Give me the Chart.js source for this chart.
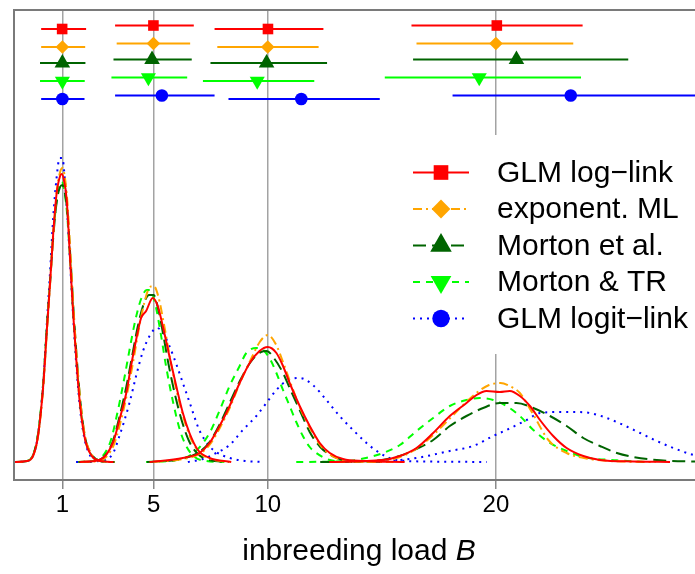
<!DOCTYPE html>
<html><head><meta charset="utf-8">
<script src="https://cdn.jsdelivr.net/npm/chart.js@4/dist/chart.umd.min.js"></script>
<style>
html,body{margin:0;padding:0;background:#fff;overflow:hidden;}
#wrap{position:relative;width:720px;height:574px;}
</style></head><body>
<div id="wrap"><canvas id="c"></canvas></div>
<script>
// ---------- data ----------
const seriesNames = ['GLM log\u2212link', 'exponent. ML', 'Morton et al.', 'Morton & TR', 'GLM logit\u2212link'];
const tickValues = [1, 5, 10, 20];
const axisTitle = 'inbreeding load ';
const axisTitleItalic = 'B';

// interval estimates for the four simulated loads (B = 1, 5, 10, 20)
const logLinkEst = [0.99, 4.99, 10.01, 20.04];
const logLinkLo  = [0.07, 3.31, 7.67, 16.30];
const logLinkHi  = [2.04, 6.76, 12.44, 23.80];
const expMLEst = [1.00, 4.99, 10.00, 20.00];
const expMLLo  = [0.07, 3.38, 7.79, 16.52];
const expMLHi  = [2.00, 6.60, 12.23, 23.39];
const mortonEst = [1.00, 4.93, 9.95, 20.90];
const mortonLo  = [0.02, 3.24, 7.49, 16.37];
const mortonHi  = [2.01, 6.67, 12.60, 25.80];
const mortonTREst = [1.00, 4.77, 9.54, 19.27];
const mortonTRLo  = [0.02, 3.15, 7.16, 15.13];
const mortonTRHi  = [1.98, 6.47, 12.04, 23.73];
const logitEst = [1.00, 5.36, 11.47, 23.28];
const logitLo  = [0.07, 3.31, 8.28, 18.10];
const logitHi  = [1.97, 7.67, 14.91, 31.00];

// vertical level of each method's interval row (y units), and per-group shift
const rowLevel = [4.33, 4.15, 3.99, 3.81, 3.63];
const rowShift = [0, 0.035, 0, 0.035];

// density curves [B, density] per method and group
const dLog1 = [[-1.15,0],[-0.55,0.01],[-0.25,0.08],[-0.05,0.29],[0.17,0.79],[0.31,1.29],[0.46,1.79],[0.6,2.29],[0.75,2.69],[0.9,2.86],[0.97,2.88],[1.05,2.84],[1.19,2.62],[1.34,2.02],[1.48,1.46],[1.63,0.96],[1.78,0.56],[2.0,0.22],[2.29,0.06],[2.65,0.01],[3.24,0]];
const dLog5 = [[1.75,0],[2.62,0.02],[3.21,0.19],[3.5,0.42],[3.8,0.69],[4.01,0.96],[4.23,1.22],[4.45,1.44],[4.67,1.51],[4.96,1.64],[5.18,1.56],[5.4,1.36],[5.69,1.06],[5.99,0.76],[6.28,0.49],[6.57,0.29],[6.94,0.12],[7.45,0.04],[8.4,0]];
const dLog10 = [[4.82,0],[6.28,0.04],[7.01,0.09],[7.45,0.19],[7.89,0.36],[8.33,0.56],[8.77,0.79],[9.21,0.99],[9.64,1.11],[10.0,1.15],[10.38,1.09],[10.67,0.96],[10.96,0.79],[11.4,0.56],[11.84,0.36],[12.28,0.19],[12.72,0.09],[13.3,0.03],[14.2,0.01],[16.0,0]];
const dLog20 = [[12.7,0],[15.05,0.02],[15.79,0.06],[16.52,0.14],[17.25,0.29],[17.98,0.46],[18.71,0.59],[19.15,0.67],[19.59,0.71],[20.17,0.7],[20.61,0.71],[21.05,0.66],[21.49,0.56],[21.93,0.42],[22.51,0.26],[23.1,0.14],[23.83,0.06],[24.56,0.02],[26.02,0.005],[27.63,0]];

const dExp1 = [[-1.15,0],[-0.55,0.01],[-0.25,0.08],[-0.05,0.28],[0.17,0.77],[0.31,1.26],[0.46,1.77],[0.6,2.27],[0.75,2.7],[0.9,2.9],[1.0,2.94],[1.1,2.86],[1.22,2.6],[1.36,2.05],[1.5,1.48],[1.65,0.98],[1.8,0.58],[2.0,0.25],[2.3,0.07],[2.65,0.01],[3.3,0]];
const dExp5 = [[1.8,0],[2.7,0.02],[3.25,0.17],[3.55,0.4],[3.85,0.7],[4.1,1.0],[4.35,1.33],[4.6,1.6],[4.8,1.74],[5.0,1.76],[5.2,1.66],[5.45,1.38],[5.7,1.06],[6.0,0.72],[6.3,0.45],[6.6,0.25],[7.0,0.1],[7.5,0.03],[8.3,0]];
const dExp10 = [[5.0,0],[6.3,0.03],[7.0,0.08],[7.45,0.17],[7.9,0.34],[8.35,0.55],[8.8,0.8],[9.25,1.02],[9.65,1.2],[10.0,1.27],[10.35,1.18],[10.7,0.98],[11.0,0.79],[11.4,0.55],[11.85,0.34],[12.3,0.17],[12.75,0.07],[13.3,0.02],[14.0,0.005],[15.5,0]];
const dExp20 = [[13.0,0],[15.0,0.015],[15.8,0.05],[16.5,0.13],[17.25,0.27],[18.0,0.44],[18.7,0.6],[19.2,0.7],[19.7,0.77],[20.2,0.79],[20.6,0.76],[21.05,0.69],[21.6,0.49],[22.3,0.22],[23.1,0.09],[24.1,0.03],[25.0,0.01],[27.0,0]];

const dMor1 = [[-1.15,0],[-0.55,0.01],[-0.25,0.09],[-0.05,0.3],[0.17,0.8],[0.31,1.3],[0.46,1.79],[0.6,2.25],[0.75,2.6],[0.9,2.75],[1.0,2.77],[1.1,2.7],[1.22,2.5],[1.36,2.02],[1.5,1.48],[1.65,0.98],[1.8,0.58],[2.0,0.24],[2.3,0.07],[2.65,0.01],[3.3,0]];
const dMor5 = [[1.7,0],[2.6,0.02],[3.2,0.2],[3.5,0.45],[3.8,0.75],[4.05,1.05],[4.3,1.35],[4.55,1.57],[4.8,1.67],[5.0,1.67],[5.2,1.53],[5.4,1.3],[5.65,0.98],[5.95,0.66],[6.25,0.4],[6.55,0.21],[6.9,0.09],[7.4,0.02],[8.3,0]];
const dMor10 = [[4.7,0],[6.2,0.03],[7.0,0.1],[7.45,0.2],[7.9,0.38],[8.35,0.6],[8.8,0.82],[9.25,1.0],[9.7,1.1],[9.95,1.11],[10.3,1.03],[10.67,0.89],[11.0,0.72],[11.4,0.52],[11.84,0.3],[12.3,0.15],[12.75,0.07],[13.3,0.02],[14.2,0.005],[15.5,0]];
const dMor20 = [[12.3,0],[14.5,0.01],[15.79,0.06],[16.52,0.13],[17.25,0.22],[17.98,0.36],[18.71,0.46],[19.44,0.54],[20.17,0.59],[20.9,0.59],[21.64,0.54],[22.37,0.46],[23.1,0.36],[23.83,0.24],[24.56,0.16],[25.3,0.09],[26.02,0.05],[27.2,0.017],[28.7,0.005],[30,0]];

const dTR1 = [[-1.15,0],[-0.55,0.01],[-0.25,0.09],[-0.05,0.31],[0.17,0.82],[0.31,1.32],[0.46,1.81],[0.6,2.27],[0.75,2.62],[0.88,2.78],[0.98,2.8],[1.08,2.72],[1.2,2.5],[1.34,2.02],[1.48,1.47],[1.63,0.97],[1.78,0.57],[2.0,0.23],[2.3,0.06],[2.65,0.01],[3.2,0]];
const dTR5 = [[1.7,0],[2.5,0.02],[3.1,0.2],[3.4,0.48],[3.7,0.82],[3.95,1.13],[4.2,1.42],[4.45,1.63],[4.7,1.72],[4.85,1.72],[5.05,1.6],[5.3,1.3],[5.55,0.95],[5.85,0.6],[6.15,0.32],[6.45,0.15],[6.8,0.05],[7.3,0.01],[8.1,0]];
const dTR10 = [[4.67,0],[6.0,0.02],[6.8,0.1],[7.45,0.29],[7.9,0.52],[8.33,0.76],[8.77,0.96],[9.06,1.09],[9.5,1.14],[9.8,1.12],[10.1,1.03],[10.38,0.89],[10.67,0.72],[10.96,0.56],[11.25,0.4],[11.54,0.26],[11.84,0.15],[12.13,0.09],[12.72,0.02],[13.5,0.005],[14.5,0]];
const dTR20 = [[11.25,0],[13.5,0.01],[14.3,0.04],[15.05,0.09],[15.79,0.17],[16.52,0.31],[17.25,0.44],[17.98,0.56],[18.71,0.62],[19.29,0.64],[19.88,0.62],[20.46,0.56],[21.05,0.46],[21.64,0.32],[22.37,0.19],[23.1,0.11],[23.83,0.05],[25.3,0.017],[26.5,0]];

const dLogit1 = [[-1.15,0],[-0.55,0.01],[-0.25,0.08],[-0.05,0.3],[0.17,0.82],[0.31,1.35],[0.46,1.9],[0.6,2.45],[0.75,2.85],[0.88,3.04],[1.0,3.04],[1.1,2.85],[1.22,2.45],[1.36,1.9],[1.5,1.35],[1.65,0.85],[1.8,0.48],[2.0,0.2],[2.3,0.04],[2.65,0.01],[3.0,0]];
const dLogit5 = [[1.6,0],[2.6,0.01],[3.2,0.08],[3.5,0.26],[3.94,0.59],[4.23,0.86],[4.52,1.1],[4.82,1.26],[5.14,1.34],[5.39,1.3],[5.69,1.16],[5.99,0.98],[6.28,0.79],[6.57,0.6],[7.0,0.32],[7.4,0.17],[7.74,0.1],[8.33,0.04],[9.0,0.01],[9.78,0]];
const dLogit10 = [[6.5,0],[7.16,0.03],[7.74,0.09],[8.33,0.17],[8.91,0.32],[9.5,0.46],[9.94,0.59],[10.38,0.72],[10.82,0.81],[11.4,0.84],[11.98,0.77],[12.57,0.62],[13.15,0.46],[13.74,0.32],[14.33,0.19],[14.91,0.09],[15.64,0.02],[17.0,0.005],[19.6,0]];
const dLogit20 = [[14.9,0],[16.52,0.04],[17.98,0.11],[19.0,0.16],[19.88,0.26],[20.46,0.32],[21.35,0.42],[21.93,0.49],[22.8,0.5],[23.54,0.5],[24.12,0.49],[24.86,0.44],[25.59,0.37],[26.32,0.29],[27.05,0.21],[27.78,0.14],[28.66,0.07],[29.5,0.03],[30.5,0.01]];

// ---------- styles ----------
const seriesColors = ['#FF0000', '#FFA500', '#006400', '#00FF00', '#0000FF'];
const seriesDash = [[], [9, 4, 2, 4], [13, 6], [7, 6], [2, 5]];
const seriesMarker = ['rect', 'rectRot', 'triangle', 'triangle', 'circle'];
const seriesMarkerRot = [0, 0, 0, 180, 0];
const seriesMarkerR = [7.5, 6.8, 9, 8.7, 6.3];

const estimates = [
  [logLinkLo, logLinkEst, logLinkHi],
  [expMLLo, expMLEst, expMLHi],
  [mortonLo, mortonEst, mortonHi],
  [mortonTRLo, mortonTREst, mortonTRHi],
  [logitLo, logitEst, logitHi]
];
const densities = [
  [dLog1, dLog5, dLog10, dLog20],
  [dExp1, dExp5, dExp10, dExp20],
  [dMor1, dMor5, dMor10, dMor20],
  [dTR1, dTR5, dTR10, dTR20],
  [dLogit1, dLogit5, dLogit10, dLogit20]
];

const datasets = [];
for (let s = 0; s < seriesNames.length; s++) {
  densities[s].forEach((curve) => {
    datasets.push({
      label: seriesNames[s],
      data: curve.map(p => ({x: p[0], y: p[1]})),
      borderColor: seriesColors[s],
      borderWidth: 2,
      borderDash: seriesDash[s],
      pointRadius: 0,
      fill: false,
      cubicInterpolationMode: 'monotone'
    });
  });
}
for (let s = 0; s < seriesNames.length; s++) {
  const [lo, est, hi] = estimates[s];
  for (let g = 0; g < tickValues.length; g++) {
    const yv = rowLevel[s] + rowShift[g];
    datasets.push({
      label: seriesNames[s],
      data: [{x: lo[g], y: yv}, {x: est[g], y: yv}, {x: hi[g], y: yv}],
      borderColor: seriesColors[s],
      backgroundColor: seriesColors[s],
      borderWidth: 2,
      pointRadius: [0, seriesMarkerR[s], 0],
      pointStyle: seriesMarker[s],
      pointRotation: seriesMarkerRot[s],
      pointBorderWidth: 0,
      pointBackgroundColor: seriesColors[s],
      fill: false,
      tension: 0
    });
  }
}

// ---------- plugins ----------
function drawMarker(ctx, style, rot, x, y, r) {
  ctx.beginPath();
  if (style === 'rect') {
    const h = r * Math.SQRT1_2;
    ctx.rect(x - h, y - h, 2 * h, 2 * h);
  } else if (style === 'rectRot') {
    ctx.moveTo(x, y - r); ctx.lineTo(x + r, y); ctx.lineTo(x, y + r); ctx.lineTo(x - r, y); ctx.closePath();
  } else if (style === 'triangle') {
    let a = rot * Math.PI / 180;
    for (let k = 0; k < 3; k++) {
      const px = x + Math.sin(a) * r, py = y - Math.cos(a) * r;
      if (k === 0) ctx.moveTo(px, py); else ctx.lineTo(px, py);
      a += 2 * Math.PI / 3;
    }
    ctx.closePath();
  } else {
    ctx.arc(x, y, r, 0, Math.PI * 2);
  }
  ctx.fill();
}

const framePlugin = {
  id: 'frame',
  afterDatasetsDraw(chart) {
    const {ctx, chartArea: a} = chart;
    ctx.save();
    // legend
    const lx = 405, ly = 135, lh = 219;
    ctx.fillStyle = '#ffffff';
    ctx.fillRect(lx, ly, a.right - lx, lh);
    const legendScale = 1.38;
    for (let s = 0; s < seriesNames.length; s++) {
      const y = 172.5 + s * 36.5;
      ctx.strokeStyle = seriesColors[s];
      ctx.lineWidth = 2;
      ctx.setLineDash(seriesDash[s]);
      ctx.beginPath(); ctx.moveTo(413, y); ctx.lineTo(469, y); ctx.stroke();
      ctx.setLineDash([]);
      ctx.fillStyle = seriesColors[s];
      drawMarker(ctx, seriesMarker[s], seriesMarkerRot[s], 441, y, seriesMarkerR[s] * legendScale);
      ctx.fillStyle = '#000';
      ctx.font = '30px "Liberation Sans", Arial, sans-serif';
      ctx.textBaseline = 'middle';
      ctx.textAlign = 'left';
      ctx.fillText(seriesNames[s], 497, y + 1);
    }
    // box
    ctx.strokeStyle = '#7a7a7a';
    ctx.lineWidth = 2;
    ctx.strokeRect(a.left, a.top, a.right - a.left, a.bottom - a.top);
    ctx.restore();
  },
  afterDraw(chart) {
    const {ctx, chartArea: a} = chart;
    ctx.save();
    ctx.fillStyle = '#000';
    ctx.textBaseline = 'middle';
    ctx.textAlign = 'left';
    const f1 = '30px "Liberation Sans", Arial, sans-serif';
    const f2 = 'italic 30px "Liberation Sans", Arial, sans-serif';
    ctx.font = f1; const w1 = ctx.measureText(axisTitle).width;
    ctx.font = f2; const w2 = ctx.measureText(axisTitleItalic).width;
    const cx = (a.left + a.right) / 2;
    const x0 = cx - (w1 + w2) / 2;
    ctx.font = f1; ctx.fillText(axisTitle, x0, 552);
    ctx.font = f2; ctx.fillText(axisTitleItalic, x0 + w1, 552);
    ctx.restore();
  }
};

new Chart(document.getElementById('c'), {
  type: 'line',
  data: {datasets},
  options: {
    responsive: true,
    maintainAspectRatio: false,
    animation: false,
    events: [],
    layout: {padding: {left: 14, top: 10, right: 16, bottom: 0}},
    plugins: {legend: {display: false}, tooltip: {enabled: false}, title: {display: false}},
    scales: {
      x: {
        type: 'linear',
        min: -1.12,
        max: 29.12,
        afterBuildTicks: (axis) => { axis.ticks = tickValues.map(v => ({value: v})); },
        afterFit: (scale) => { scale.height = 94; },
        grid: {color: '#a3a3a3', lineWidth: 1.5, drawTicks: true, tickLength: 9, tickColor: '#8a8a8a', tickWidth: 1.5},
        border: {display: false},
        ticks: {
          autoSkip: false, maxRotation: 0, padding: 2,
          color: '#000',
          font: {family: '"Liberation Sans", Arial, sans-serif', size: 24},
          callback: (v) => String(v)
        },
        title: {display: false}
      },
      y: {
        type: 'linear',
        display: false,
        min: -0.18,
        max: 4.52
      }
    }
  },
  plugins: [framePlugin]
});
</script>
</body></html>
